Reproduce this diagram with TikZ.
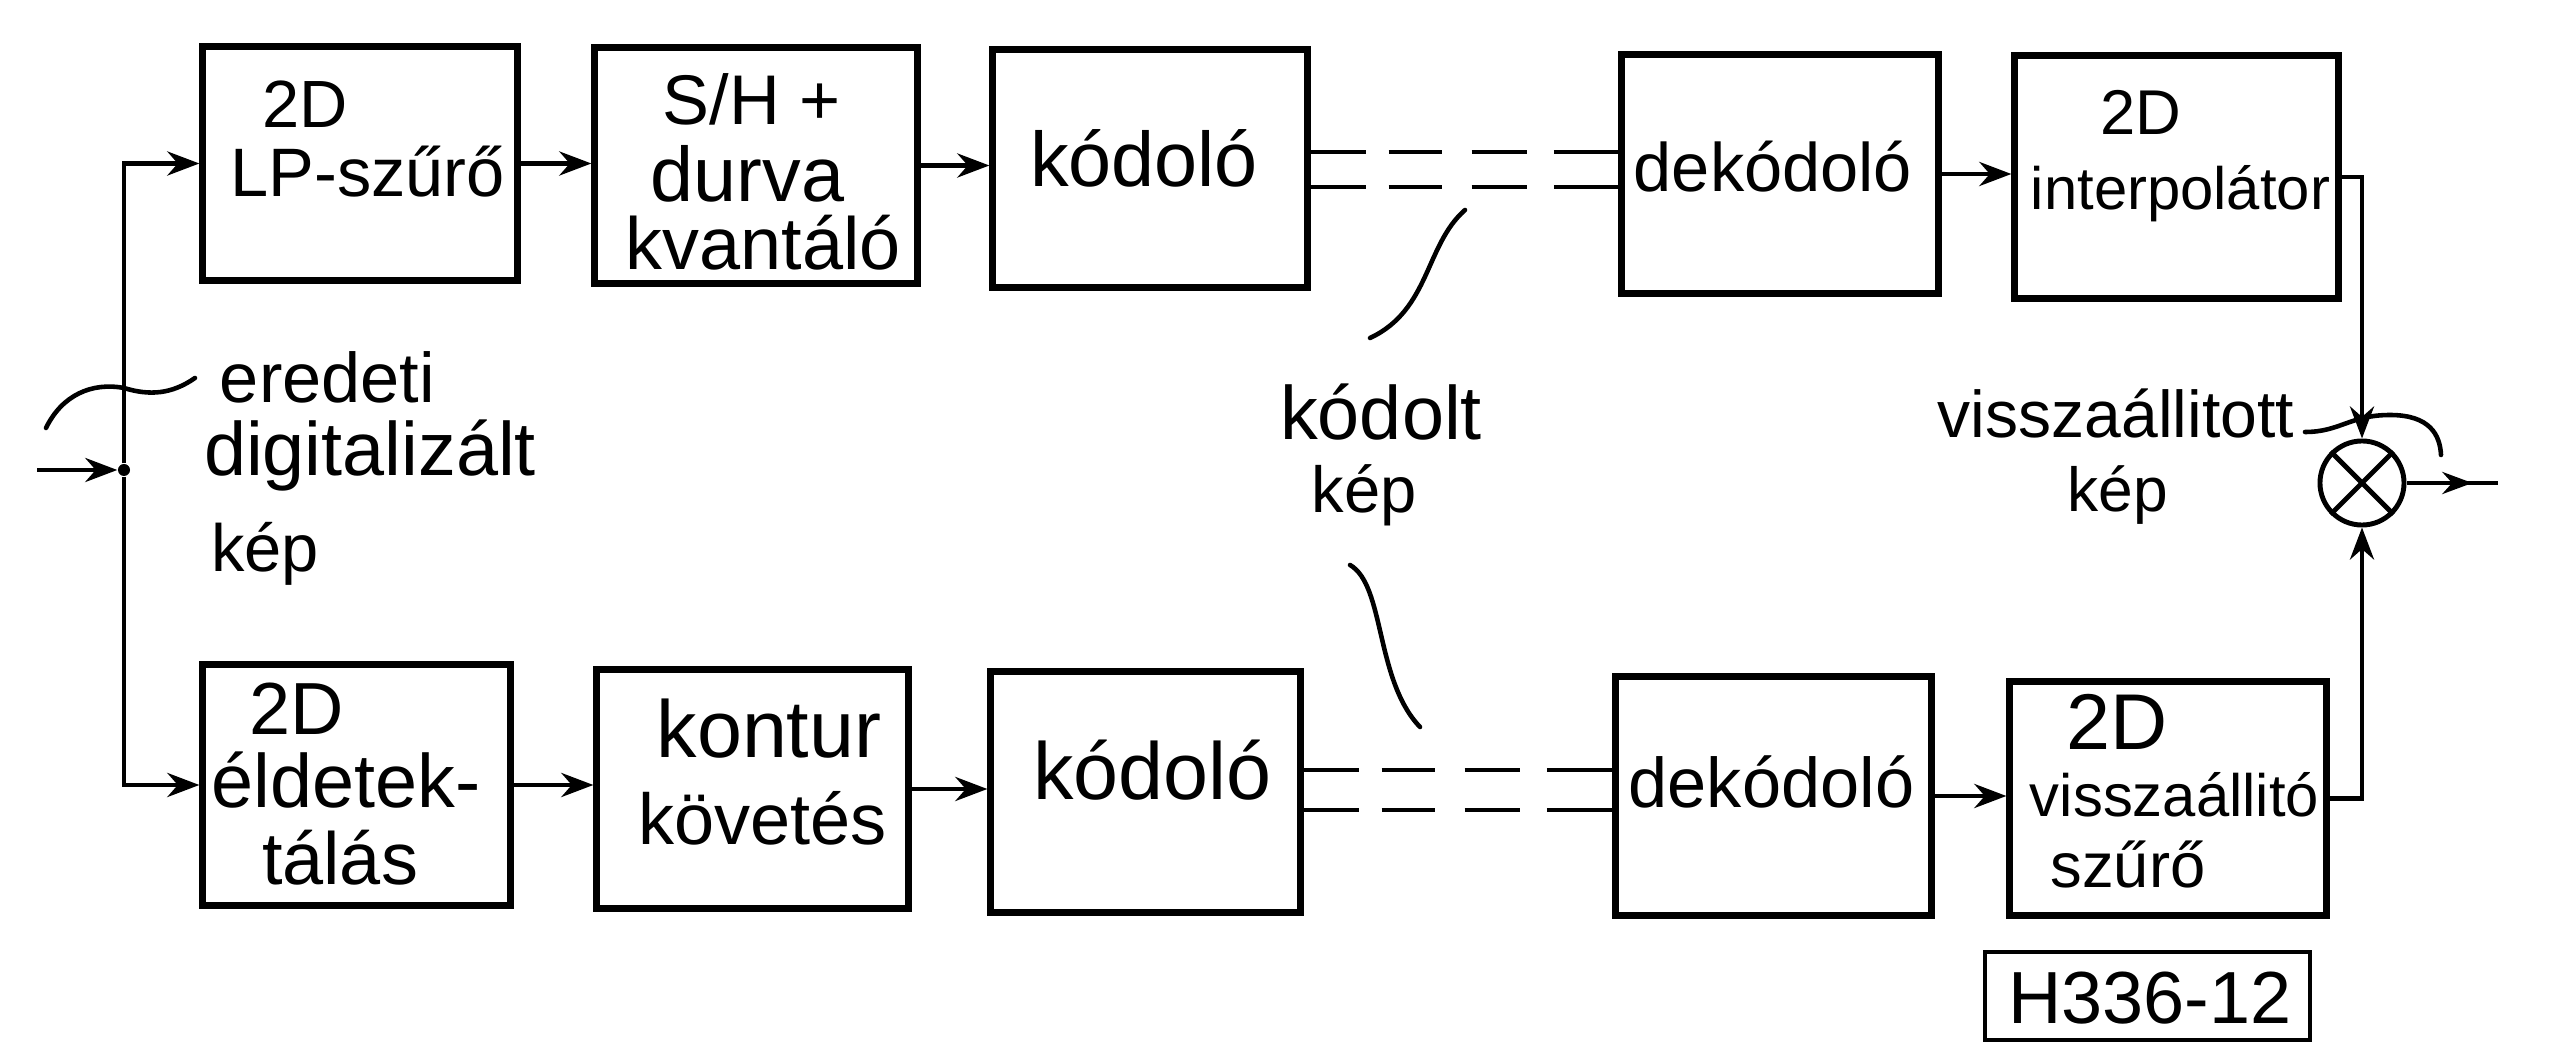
\documentclass[tikz,border=0pt]{standalone}
\usepackage{fontspec}
\setmainfont{Liberation Sans}
\usetikzlibrary{arrows.meta,decorations.markings}
\begin{document}
\begin{tikzpicture}[x=0.01cm,y=-0.01cm,
  box/.style={draw,line width=2pt,rectangle,inner sep=0pt},
  lbl/.style={inner sep=0pt,anchor=base,font=\fontsize{#1pt}{#1pt}\selectfont},
  conn/.style={line width=1.3pt},
  arr/.style={conn,-{Stealth[length=0.32cm,width=0.24cm]}},
  dbl/.style={line width=1.3pt,dash pattern=on 0.55cm off 0.23cm on 0.53cm off 0.30cm on 0.55cm off 0.27cm on 0.8cm},
  leader/.style={line width=1.3pt,line cap=round}]
\useasboundingbox[fill=white] (0,0) rectangle (2553,1046);

% boxes, top row
\node[box,minimum width=3.14cm,minimum height=2.33cm] (b1) at (360,163.5) {};
\node[box,minimum width=3.22cm,minimum height=2.35cm] (b2) at (756,165.5) {};
\node[box,minimum width=3.14cm,minimum height=2.37cm] (b3) at (1150,168.5) {};
\node[box,minimum width=3.16cm,minimum height=2.38cm] (b4) at (1780,174) {};
\node[box,minimum width=3.23cm,minimum height=2.42cm] (b5) at (2176.5,177) {};
% boxes, bottom row
\node[box,minimum width=3.07cm,minimum height=2.40cm] (b6) at (356.5,785) {};
\node[box,minimum width=3.11cm,minimum height=2.38cm] (b7) at (752.5,789) {};
\node[box,minimum width=3.09cm,minimum height=2.40cm] (b8) at (1145.5,792) {};
\node[box,minimum width=3.15cm,minimum height=2.38cm] (b9) at (1773.5,796) {};
\node[box,minimum width=3.16cm,minimum height=2.33cm] (b10) at (2168,798.5) {};
% figure id
\node[draw,line width=1.3pt,inner sep=0pt,minimum width=3.25cm,minimum height=0.88cm] (hid) at (2147.5,996) {};
\node[lbl=21] (thid) at (2150,1023) {H336-12};

% multiplier
\node[draw,circle,line width=1.4pt,minimum size=0.84cm,inner sep=0pt] (mul) at (2362,483) {};
\draw[line width=1.4pt] (mul.north west) -- (mul.south east) (mul.north east) -- (mul.south west);

% texts in boxes
\node[lbl=19] (t1a) at (305.5,128) {2D};
\node[lbl=19.5] (t1b) at (367.5,197) {LP-szűrő};
\node[lbl=20] (t2a) at (751.5,125) {S/H +};
\node[lbl=22] (t2b) at (747.5,202) {durva};
\node[lbl=21] (t2c) at (763.5,270) {kvantáló};
\node[lbl=22] (t3) at (1144,187) {kódoló};
\node[lbl=19.5] (t4) at (1773,192) {dekódoló};
\node[lbl=18] (t5a) at (2141,135) {2D};
\node[lbl=17] (t5b) at (2180.5,210) {interpolátor};
\node[lbl=21] (t6a) at (296.5,735) {2D};
\node[lbl=21.5] (t6b) at (346,808) {éldetek-};
\node[lbl=21] (t6c) at (340,884) {tálás};
\node[lbl=23] (t7a) at (769,758) {kontur};
\node[lbl=20.5] (t7b) at (762.5,845) {követés};
\node[lbl=23] (t8) at (1152.5,800) {kódoló};
\node[lbl=20] (t9) at (1771.5,808) {dekódoló};
\node[lbl=22.5] (t10a) at (2117,750) {2D};
\node[lbl=17] (t10b) at (2174.5,817) {visszaállitó};
\node[lbl=18] (t10c) at (2128,887) {szűrő};

% free labels
\node[lbl=20] (l1a) at (327.5,403) {eredeti};
\node[lbl=21.5] (l1b) at (370,476) {digitalizált};
\node[lbl=19] (l1c) at (265,572) {kép};
\node[lbl=21.5] (l2a) at (1381,440) {kódolt};
\node[lbl=18.5] (l2b) at (1364,513) {kép};
\node[lbl=18.8] (l3a) at (2116,438) {visszaállitott};
\node[lbl=17.7] (l3b) at (2118,512) {kép};

% input and branching
\coordinate (in) at (37,470);
\node[circle,fill,inner sep=0pt,minimum size=0.12cm] (jn) at (124,470) {};
\draw[arr] (in) -- (jn);
\draw[arr] (jn) |- (b1.west);
\draw[arr] (jn) |- (b6.west);

% top chain
\draw[arr] (b1.east) -- (b1.east -| b2.west);
\draw[arr] (b2.east) -- (b2.east -| b3.west);
\coordinate (d1) at ([yshift=0.165cm]b3.east);
\coordinate (d2) at ([yshift=-0.185cm]b3.east);
\draw[dbl] (d1) -- (d1 -| b4.west);
\draw[dbl] (d2) -- (d2 -| b4.west);
\draw[arr] (b4.east) -- (b4.east -| b5.west);
\draw[arr] (b5.east) -| (mul.north);

% bottom chain
\draw[arr] (b6.east) -- (b6.east -| b7.west);
\draw[arr] (b7.east) -- (b7.east -| b8.west);
\coordinate (d3) at ([yshift=0.22cm]b8.east);
\coordinate (d4) at ([yshift=-0.18cm]b8.east);
\draw[dbl] (d3) -- (d3 -| b9.west);
\draw[dbl] (d4) -- (d4 -| b9.west);
\draw[arr] (b9.east) -- (b9.east -| b10.west);
\draw[arr] (b10.east) -| (mul.south);

% output
\coordinate (out) at (2498,483);
\draw[conn,decoration={markings,mark=at position 0.72 with {\arrow{Stealth[length=0.3cm,width=0.22cm]}}},postaction={decorate}] (mul.east) -- (out);

% leader curves
\coordinate (e1) at (46,428);
\coordinate (e2) at (195,378);
\draw[leader] (e1) .. controls (62,395) and (92,382) .. (124,388) .. controls (150,396) and (172,394) .. (e2);
\coordinate (k1) at (1465,210);
\coordinate (k2) at (1370,338);
\draw[leader] (k1) .. controls (1425,245) and (1430,310) .. (k2);
\coordinate (k3) at (1350,565);
\coordinate (k4) at (1420,727);
\draw[leader] (k3) .. controls (1385,585) and (1375,680) .. (k4);
\coordinate (v1) at (2305,432);
\coordinate (v2) at (2441,455);
\draw[leader] (v1) .. controls (2340,432) and (2350,415) .. (2390,415) .. controls (2430,415) and (2440,435) .. (v2);
\end{tikzpicture}
\end{document}
